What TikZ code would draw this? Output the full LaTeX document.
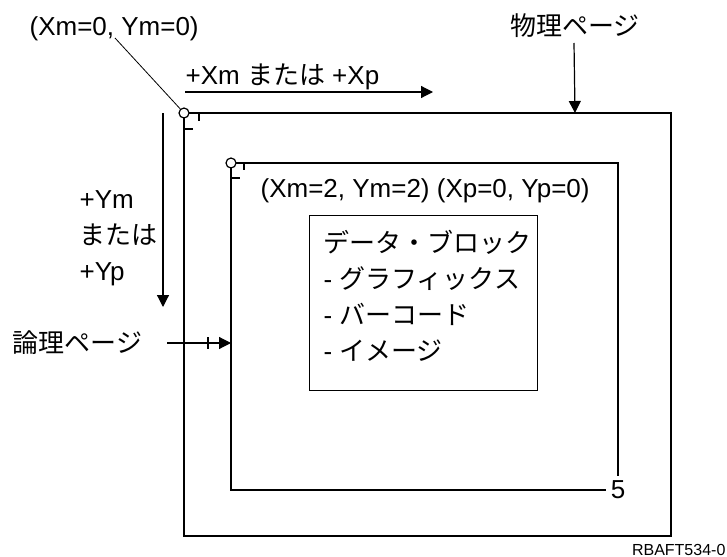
\documentclass[tikz,border=0pt]{standalone}
\usepackage{fontspec}
\setmainfont{Liberation Sans}
\newfontfamily\jp{Noto Sans CJK JP}
\usetikzlibrary{arrows.meta,positioning}

\begin{document}
\begin{tikzpicture}[x=0.5pt,y=-0.5pt,line width=0.6pt,
  every node/.style={font=\fontsize{13}{18}\selectfont,inner sep=0pt},
  pfeil/.style={-{Triangle[length=6pt,width=6pt]}},
  origin/.style={circle,draw,fill=white,minimum size=5pt}]
\useasboundingbox (0,0) rectangle (727,556);
% physical page
\coordinate (PhysTL) at (184,113);
\coordinate (PhysBR) at (671,536);
\draw (PhysTL) rectangle (PhysBR);
\draw (199,113) -- (199,121)
      (184,129) -- (193,129);
\node[origin] (OrigPhys) at (PhysTL) {};
% logical page
\coordinate (LogTL) at (231,163);
\node[inner sep=2pt] (Five) at (618,490) {5};
\draw (LogTL) -| (Five.north)
      (LogTL) |- (Five.west);
\draw (244,163) -- (244,170)
      (231,178) -- (240,178);
\node[origin] (OrigLog) at (LogTL) {};
% labels and arrows
\node[anchor=base west] (OrigPhysLbl) at (29,36) {(Xm=0, Ym=0)};
\coordinate (Lead) at (115,38);
\draw[line width=0.4pt] (Lead) -- (OrigPhys);
\node[anchor=base west] (XmLbl) at (185,84) {+Xm {\jp または} +Xp};
\coordinate (XmStart) at (185,92);
\coordinate (XmEnd) at (433,92);
\draw[pfeil] (XmStart) -- (XmEnd);
\node[anchor=north west,align=left] (YmLbl) at (79,190) {+Ym\\{\jp または}\\+Yp};
\coordinate (YmStart) at (163,113);
\coordinate (YmEnd) at (163,307);
\draw[pfeil] (YmStart) -- (YmEnd);
\node (PhysLbl) at (575,26) {\jp 物理ページ};
\draw[pfeil] (574,43) -- (PhysLbl.south |- PhysTL);
\node[anchor=west] (LogLbl) at (12,343) {\jp 論理ページ};
\coordinate (LogStart) at (167,343);
\draw[pfeil] (LogStart) -- (LogStart -| LogTL);
\draw (208,337) -- (208,349);
\node[anchor=base west] (OrigLogLbl) at (260,197) {(Xm=2, Ym=2) (Xp=0, Yp=0)};
% data block
\node[draw,minimum width=114pt,minimum height=87.5pt,anchor=north west] (DataBox) at (309,215) {};
\node[anchor=north west,align=left] (DataTxt) at ([xshift=7pt,yshift=-7.5pt]DataBox.north west)
  {\jp データ・ブロック\\- {\jp グラフィックス}\\- {\jp バーコード}\\- {\jp イメージ}};
\node[anchor=base east,font=\fontsize{8}{9}\selectfont] (FigId) at (726,555) {RBAFT534-0};
\end{tikzpicture}
\end{document}
